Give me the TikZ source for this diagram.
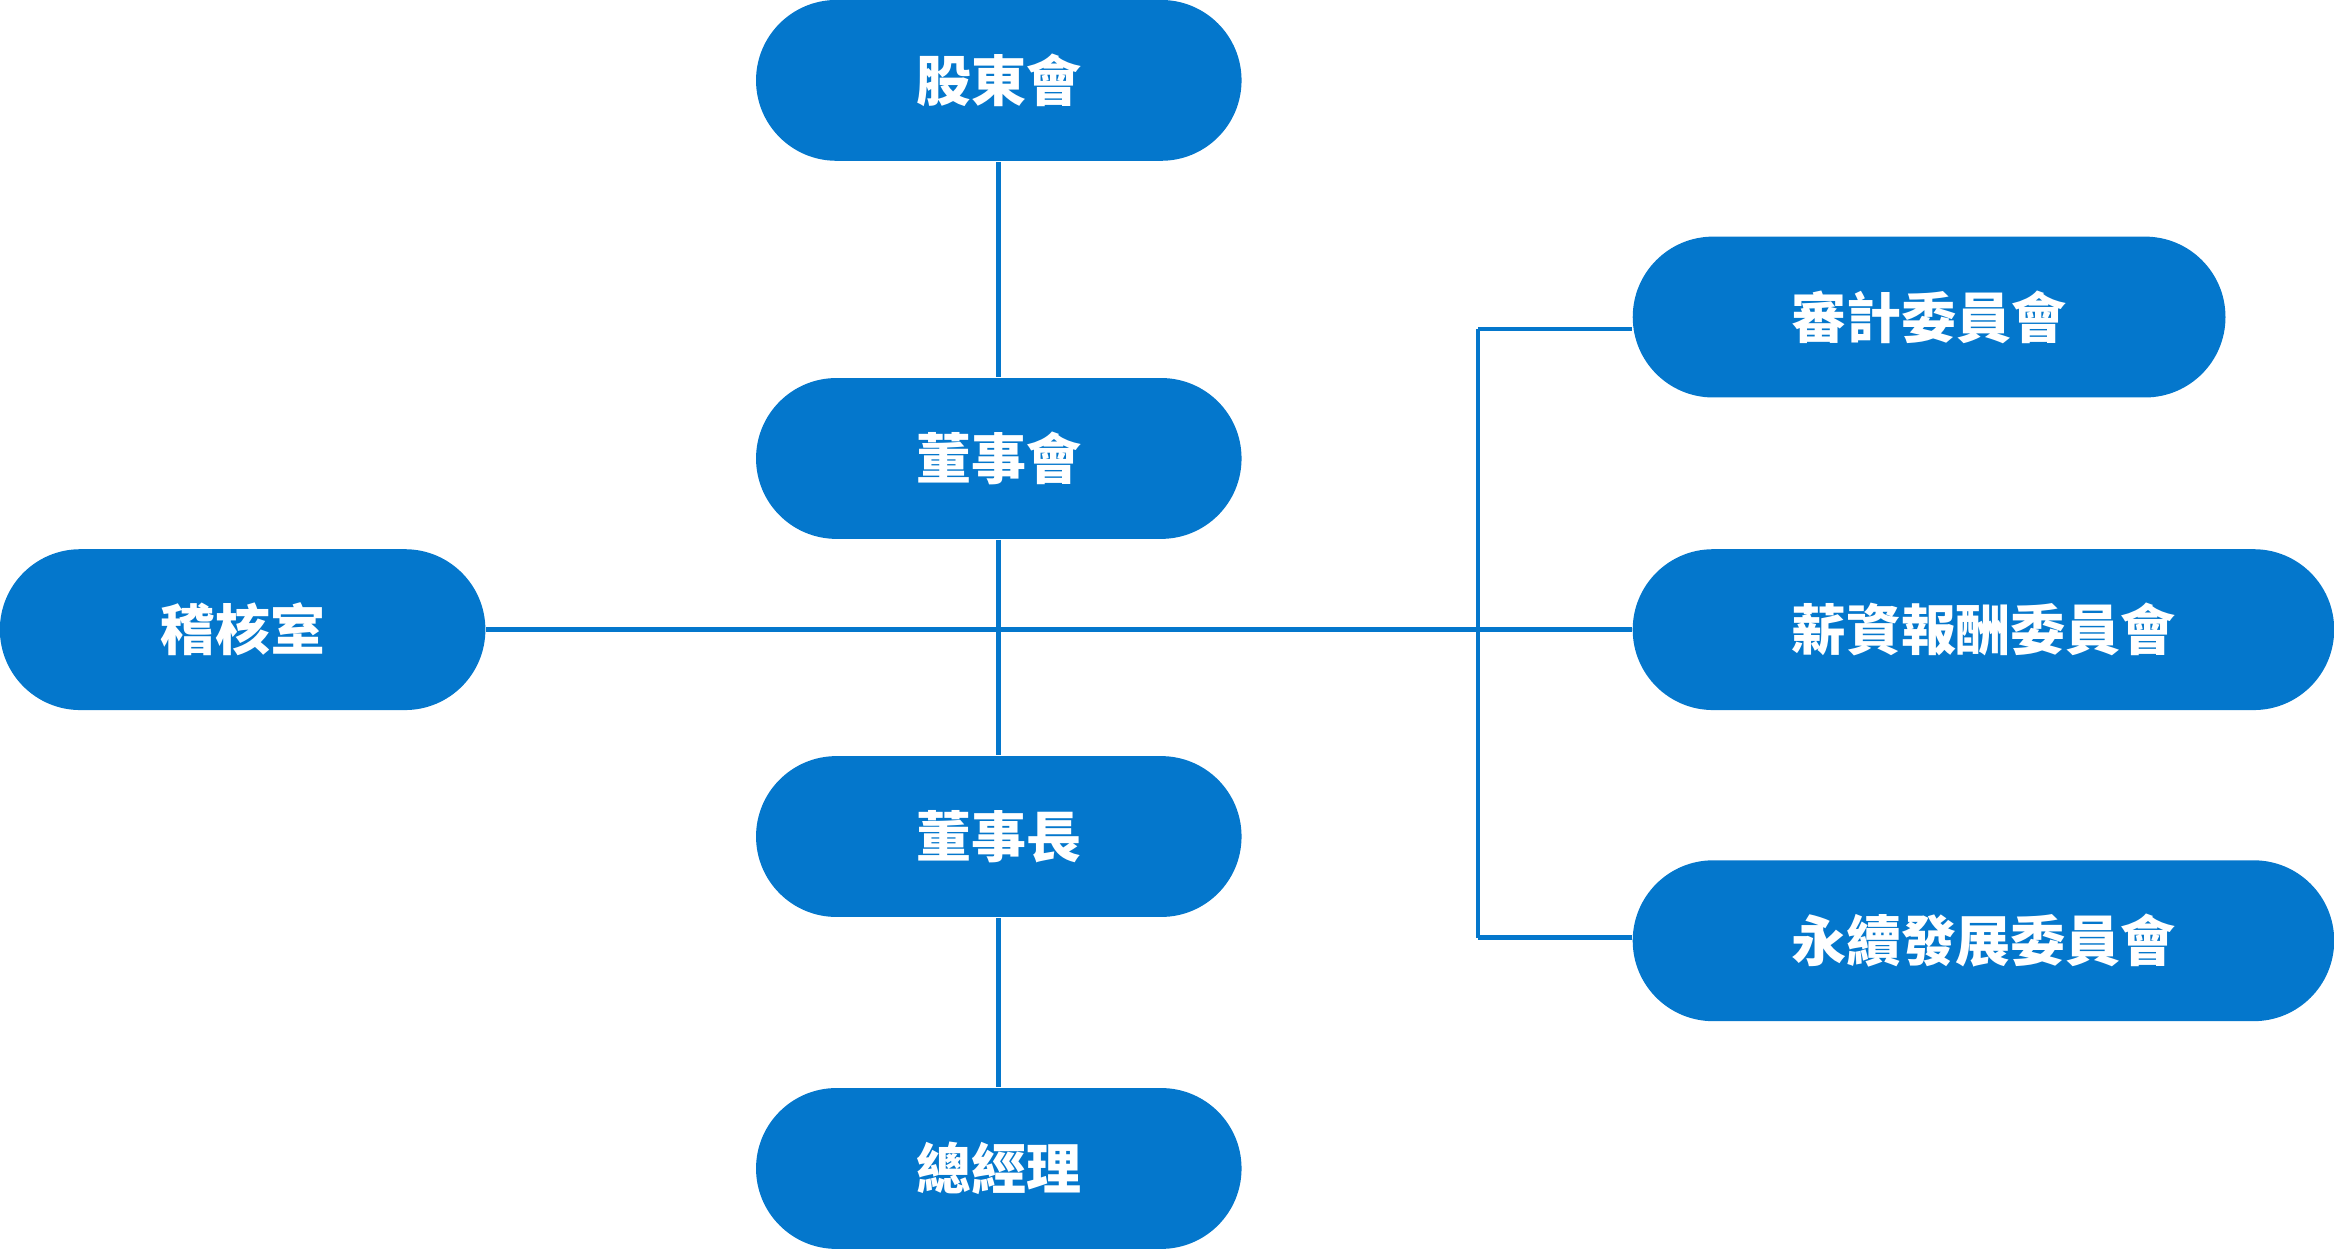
\documentclass[tikz,border=0pt]{standalone}
\usepackage{fontspec}
\setmainfont{Noto Sans CJK TC}
\definecolor{orgblue}{HTML}{0477CC}
\tikzset{
  unit/.style={fill=orgblue, text=white, rounded corners=0.54cm, minimum height=1.08cm,
    minimum width=3.26cm, inner sep=0pt, font=\fontsize{10.5}{12}\selectfont\bfseries},
  link/.style={draw=orgblue, line width=0.9pt}
}
\begin{document}
\begin{tikzpicture}[x=0.01cm, y=-0.01cm]
\useasboundingbox (0,0) rectangle (1568,840);
% main line
\node[unit] (agm) at (671,54) {股東會};
\node[unit] (board) at (671,308) {董事會};
\node[unit] (chair) at (671,562) {董事長};
\node[unit] (gm) at (671,785) {總經理};
\node[unit] (audit) at (163,423) {稽核室};
% committees
\node[unit, minimum width=3.98cm] (acom) at (1296,213) {審計委員會};
\node[unit, minimum width=4.71cm] (pay) at (1332.5,423) {薪資報酬委員會};
\node[unit, minimum width=4.71cm] (esg) at (1332.5,632) {永續發展委員會};
\coordinate (top) at (993,221);
\coordinate (bot) at (993,630);
\draw[link] (agm) -- (board);
\draw[link] (board) -- (chair);
\draw[link] (chair) -- (gm);
\draw[link] (audit) -- (pay);
\draw[link] (top) -- (bot);
\draw[link] (top) -- (top -| acom.west);
\draw[link] (bot) -- (bot -| esg.west);
\end{tikzpicture}
\end{document}
